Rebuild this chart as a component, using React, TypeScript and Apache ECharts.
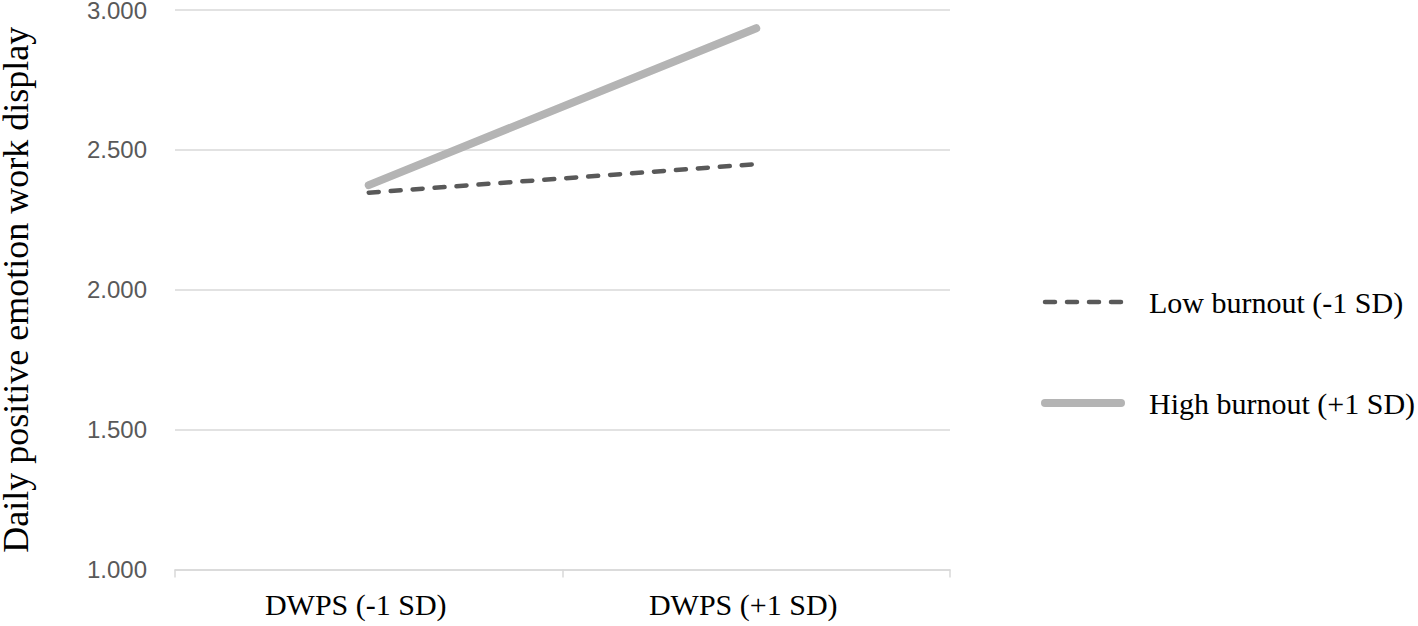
import React, { useEffect, useRef } from "react";
import * as echarts from "echarts";

const categories = ["DWPS (-1 SD)", "DWPS (+1 SD)"];
const lowBurnout = [2.347, 2.449];
const highBurnout = [2.374, 2.935];
const seriesNames = ["Low burnout (-1 SD)", "High burnout (+1 SD)"];
const yAxisName = "Daily positive emotion work display";

export default function App() {
  const ref = useRef<HTMLDivElement>(null);
  useEffect(() => {
    if (!ref.current) return;
    const chart = echarts.init(ref.current, null, { renderer: "svg" });
    const serif = "'Times New Roman', 'Liberation Serif', serif";
    chart.setOption({
      animation: false,
      backgroundColor: "#ffffff",
      grid: {
        left: 175,
        right: 468,
        top: 10,
        bottom: 56.5,
        containLabel: false,
        outerBoundsMode: "none",
      },
      legend: {
        orient: "vertical",
        left: 1041,
        top: 287,
        padding: 0,
        itemWidth: 76,
        itemHeight: 14,
        itemGap: 71,
        itemStyle: { opacity: 0 },
        lineStyle: { width: "inherit", type: "inherit", cap: "round" },
        textStyle: { fontFamily: serif, fontSize: 30, color: "#000000", padding: [0, 0, 0, 23] },
        data: seriesNames,
      },
      xAxis: {
        type: "category",
        data: categories,
        boundaryGap: true,
        axisLine: { show: true, lineStyle: { color: "#d9d9d9", width: 1.5 } },
        axisTick: { show: true, length: 8, lineStyle: { color: "#d9d9d9", width: 1.5 } },
        axisLabel: {
          fontFamily: serif,
          fontSize: 30,
          color: "#000000",
          margin: 20,
          padding: [0, 26, 0, 0],
        },
      },
      yAxis: {
        type: "value",
        min: 1,
        max: 3,
        interval: 0.5,
        name: yAxisName,
        nameLocation: "middle",
        nameGap: 141,
        nameTextStyle: { fontFamily: serif, fontSize: 36, color: "#000000" },
        axisLine: { show: false },
        axisTick: { show: false },
        splitLine: { lineStyle: { color: "#d9d9d9", width: 1.5 } },
        axisLabel: {
          fontFamily: "'Liberation Sans', Arial, sans-serif",
          fontSize: 24,
          color: "#595959",
          margin: 28,
          formatter: (v: number) => v.toFixed(3),
        },
      },
      series: [
        {
          name: seriesNames[0],
          type: "line",
          data: lowBurnout,
          symbol: "none",
          lineStyle: { color: "#595959", width: 4.5, type: [10, 12], cap: "round" },
          itemStyle: { color: "#595959" },
        },
        {
          name: seriesNames[1],
          type: "line",
          data: highBurnout,
          symbol: "none",
          lineStyle: { color: "#b4b4b4", width: 8, cap: "round" },
          itemStyle: { color: "#b4b4b4" },
        },
      ],
    });
    return () => chart.dispose();
  }, []);
  return (
    <div
      ref={ref}
      style={{ position: "fixed", left: 0, top: 0, width: 1418, height: 626, background: "#fff" }}
    />
  );
}
